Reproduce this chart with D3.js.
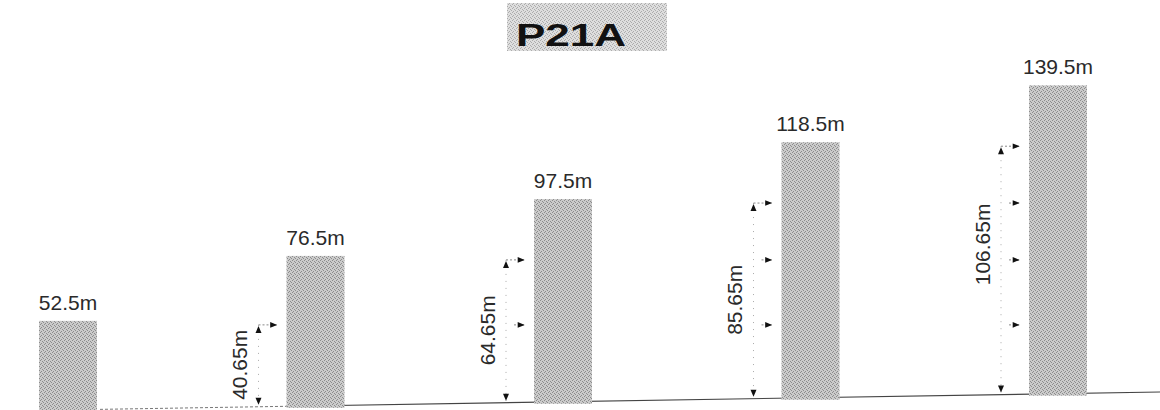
<!DOCTYPE html>
<html>
<head>
<meta charset="utf-8">
<script src="https://cdn.jsdelivr.net/npm/d3@7"></script>
<style>
  html, body { margin: 0; padding: 0; background: #fff; }
  svg { display: block; font-family: "Liberation Sans", Arial, sans-serif; }
</style>
</head>
<body>
<div id="chart"></div>
<script>
// building heights (m) and the dimension callouts beside bars 2..5
const towers = ["t1", "t2", "t3", "t4", "t5"];
const heights = [52.5, 76.5, 97.5, 118.5, 139.5];
const dimValues = [40.65, 64.65, 85.65, 106.65];
const title = "P21A";

const width = 1160, height = 410;

let svg = d3.select("#chart")
  .append("svg")
  .attr("width", width)
  .attr("height", height);

let defs = svg.append("defs");

// dithered grey like the scan
function addDither(id, base, dot) {
  let p = defs.append("pattern")
    .attr("id", id)
    .attr("patternUnits", "userSpaceOnUse")
    .attr("width", 4).attr("height", 4);
  p.append("rect").attr("width", 4).attr("height", 4).attr("fill", base);
  [[0, 0], [2, 1], [1, 3], [3, 2]].forEach(([px, py]) => {
    p.append("rect")
      .attr("x", px).attr("y", py)
      .attr("width", 1).attr("height", 1)
      .attr("fill", dot);
  });
}
addDither("barFill", "#cbcbcb", "#8c8c8c");
addDither("titleFill", "#dedede", "#acacac");

defs.append("marker")
  .attr("id", "arrow")
  .attr("viewBox", "0 0 10 10")
  .attr("refX", 9).attr("refY", 5)
  .attr("markerWidth", 8).attr("markerHeight", 7)
  .attr("markerUnits", "userSpaceOnUse")
  .attr("orient", "auto")
  .append("path")
    .attr("d", "M0,1 L10,5 L0,9 Z")
    .attr("fill", "#111");

let x = d3.scalePoint()
  .domain(towers)
  .range([68, 1058]);

let y = d3.scaleLinear()
  .domain([0, 140])
  .range([463, 84]);

// the ground line runs a little uphill to the right in the scan
let ground = d3.scaleLinear()
  .domain([0, width])
  .range([411, 392]);

const barW = 58;

// ground: faint dotted on the far left, solid after
svg.append("line")
  .attr("x1", 100).attr("y1", ground(100))
  .attr("x2", 290).attr("y2", ground(290))
  .attr("stroke", "#777")
  .attr("stroke-width", 1)
  .attr("stroke-dasharray", "3,2");
svg.append("line")
  .attr("x1", 290).attr("y1", ground(290))
  .attr("x2", width).attr("y2", ground(width))
  .attr("stroke", "#444")
  .attr("stroke-width", 1.2);

// title
let titleG = svg.append("g");
titleG.append("rect")
  .attr("x", 507).attr("y", 3)
  .attr("width", 160).attr("height", 48)
  .attr("fill", "url(#titleFill)");
titleG.append("text")
  .attr("x", 571).attr("y", 46)
  .attr("text-anchor", "middle")
  .attr("font-size", 31)
  .attr("font-weight", "900")
  .attr("textLength", 110)
  .attr("lengthAdjust", "spacingAndGlyphs")
  .attr("fill", "#111")
  .text(title);

// bars
let bars = svg.append("g").attr("class", "bars");
bars.selectAll("rect")
  .data(heights)
  .join("rect")
    .attr("x", (d, i) => x(towers[i]) - barW / 2)
    .attr("y", d => y(d))
    .attr("width", barW)
    .attr("height", (d, i) => ground(x(towers[i])) - y(d) + 2)
    .attr("fill", "url(#barFill)");

bars.selectAll("text")
  .data(heights)
  .join("text")
    .attr("x", (d, i) => x(towers[i]))
    .attr("y", d => y(d) - 11)
    .attr("text-anchor", "middle")
    .attr("font-size", 21)
    .attr("fill", "#2a2a2a")
    .text(d => d3.format(".1f")(d) + "m");

// dimension callouts
let dims = svg.append("g").attr("class", "dims");
dimValues.forEach((v, k) => {
  let i = k + 1;
  let left = x(towers[i]) - barW / 2;
  let dx = left - 28;
  let tip = left - 10;
  let top = y(heights[i - 1]) + 4;
  let bottom = ground(dx) - 2;

  let g = dims.append("g");

  // vertical dotted line
  g.append("line")
    .attr("x1", dx).attr("y1", top)
    .attr("x2", dx).attr("y2", bottom)
    .attr("stroke", "#aaa")
    .attr("stroke-width", 1)
    .attr("stroke-dasharray", "1,6");

  // arrowheads at both ends
  g.append("path")
    .attr("d", `M${dx - 3},${top + 8} L${dx},${top + 1} L${dx + 3},${top + 8} Z`)
    .attr("fill", "#111");
  g.append("path")
    .attr("d", `M${dx - 3},${bottom - 7} L${dx},${bottom} L${dx + 3},${bottom - 7} Z`)
    .attr("fill", "#111");

  // leaders to the bar: top one plus one for each lower tower height
  let levels = heights.slice(0, i).map(h => y(h) + 4);
  levels.forEach((ly, j) => {
    g.append("line")
      .attr("x1", j === i - 1 ? dx : dx + 8).attr("y1", ly)
      .attr("x2", tip).attr("y2", ly)
      .attr("stroke", "#888")
      .attr("stroke-width", 1)
      .attr("stroke-dasharray", "2,2")
      .attr("marker-end", "url(#arrow)");
  });

  // rotated value
  let mid = (top + bottom) / 2 - (i === 4 ? 25 : 0);
  g.append("text")
    .attr("transform", `translate(${dx - 19},${mid}) rotate(-90)`)
    .attr("text-anchor", "middle")
    .attr("dominant-baseline", "central")
    .attr("font-size", 21)
    .attr("fill", "#2a2a2a")
    .text(d3.format(".2f")(v) + "m");
});
</script>
</body>
</html>
